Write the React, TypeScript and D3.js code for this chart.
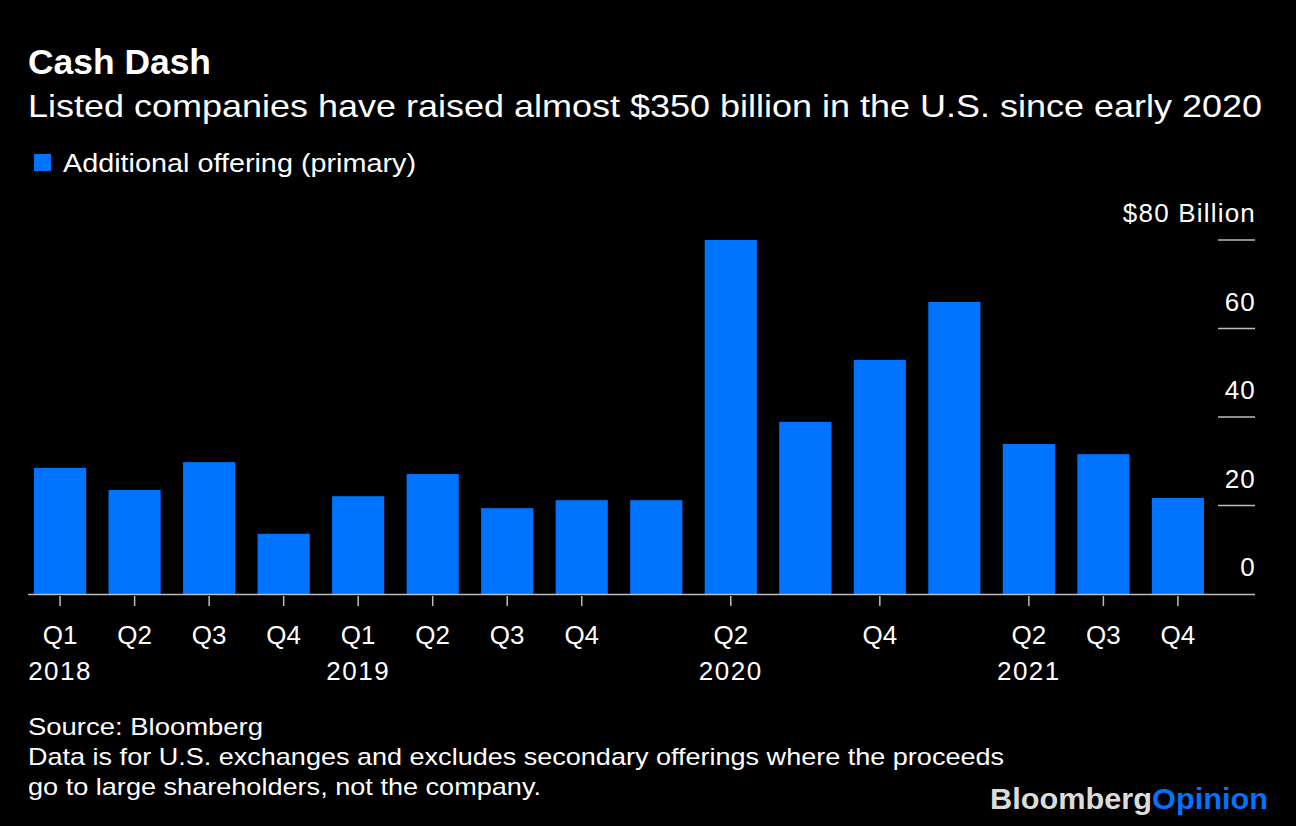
import React from "react";
import * as d3 from "d3";

const quarters = [
  "2018Q1","2018Q2","2018Q3","2018Q4",
  "2019Q1","2019Q2","2019Q3","2019Q4",
  "2020Q1","2020Q2","2020Q3","2020Q4",
  "2021Q1","2021Q2","2021Q3","2021Q4",
];
const values = [28.5, 23.5, 29.8, 13.6, 22.1, 27.1, 19.4, 21.2, 21.2, 80.0, 38.9, 52.9, 66.0, 33.9, 31.6, 21.7];
const quarterLabels = ["Q1","Q2","Q3","Q4","Q1","Q2","Q3","Q4","","Q2","","Q4","","Q2","Q3","Q4"];
const yearLabels = ["2018","","","","2019","","","","","2020","","","","2021","",""];
const yTicks = [0, 20, 40, 60, 80];
const yTickLabels = ["0", "20", "40", "60", "$80 Billion"];

const W = 1296, H = 826;
const BLUE = "#0073ff";
const FONT = "'Liberation Sans', Arial, Helvetica, sans-serif";

export default function App() {
  const x = d3.scaleBand<string>().domain(quarters).range([34, 1204]).paddingInner(0.3).paddingOuter(0);
  const y = d3.scaleLinear().domain([0, 80]).range([594, 240]);
  const gridX1 = 1218, gridX2 = 1255;
  const fit = { lengthAdjust: "spacingAndGlyphs" as const };

  return (
    <svg width={W} height={H} style={{ display: "block", position: "absolute", left: 0, top: 0, background: "#000" }} fontFamily={FONT}>
      <rect x={0} y={0} width={W} height={H} fill="#000" />
      <text x={28} y={74} fill="#fff" fontSize={35} fontWeight="bold" textLength={183} {...fit}>Cash Dash</text>
      <text x={28} y={117} fill="#fff" fontSize={32} textLength={1234} {...fit}>Listed companies have raised almost $350 billion in the U.S. since early 2020</text>
      <rect x={34} y={154} width={17} height={17} fill={BLUE} />
      <text x={63} y={172} fill="#fff" fontSize={26} textLength={353} {...fit}>Additional offering (primary)</text>

      {/* grid lines and labels */}
      {yTicks.map((t, i) => (
        <g key={t}>
          {t !== 0 && <line x1={gridX1} x2={gridX2} y1={y(t)} y2={y(t)} stroke="#bdbdbd" strokeWidth={1.5} />}
          <text x={1256} y={y(t) - 18} fill="#fff" fontSize={26} textAnchor="end" letterSpacing={1.2}>{yTickLabels[i]}</text>
        </g>
      ))}

      {/* bars */}
      {quarters.map((q, i) => (
        <rect key={q} x={x(q)} y={y(values[i])} width={x.bandwidth()} height={y(0) - y(values[i])} fill={BLUE} />
      ))}

      {/* baseline */}
      <line x1={28} x2={1255} y1={y(0) + 0.5} y2={y(0) + 0.5} stroke="#bdbdbd" strokeWidth={1.5} />

      {/* x ticks and labels */}
      {quarters.map((q, i) => {
        const cx = (x(q) as number) + x.bandwidth() / 2;
        return (
          <g key={q}>
            {quarterLabels[i] && <line x1={cx} x2={cx} y1={596} y2={606} stroke="#bdbdbd" strokeWidth={1.5} />}
            {quarterLabels[i] && <text x={cx} y={644} fill="#fff" fontSize={26} textAnchor="middle">{quarterLabels[i]}</text>}
            {yearLabels[i] && <text x={cx} y={680} fill="#fff" fontSize={26} textAnchor="middle" letterSpacing={1.5}>{yearLabels[i]}</text>}
          </g>
        );
      })}

      {/* footer */}
      <text x={28} y={735} fill="#fff" fontSize={24} textLength={235} {...fit}>Source: Bloomberg</text>
      <text x={28} y={765} fill="#fff" fontSize={24} textLength={976} {...fit}>Data is for U.S. exchanges and excludes secondary offerings where the proceeds</text>
      <text x={28} y={795} fill="#fff" fontSize={24} textLength={513} {...fit}>go to large shareholders, not the company.</text>

      <text x={990} y={809} fontSize={30} fontWeight="bold" textLength={278} {...fit}>
        <tspan fill="#dcdcdc">Bloomberg</tspan><tspan fill={BLUE}>Opinion</tspan>
      </text>
    </svg>
  );
}
